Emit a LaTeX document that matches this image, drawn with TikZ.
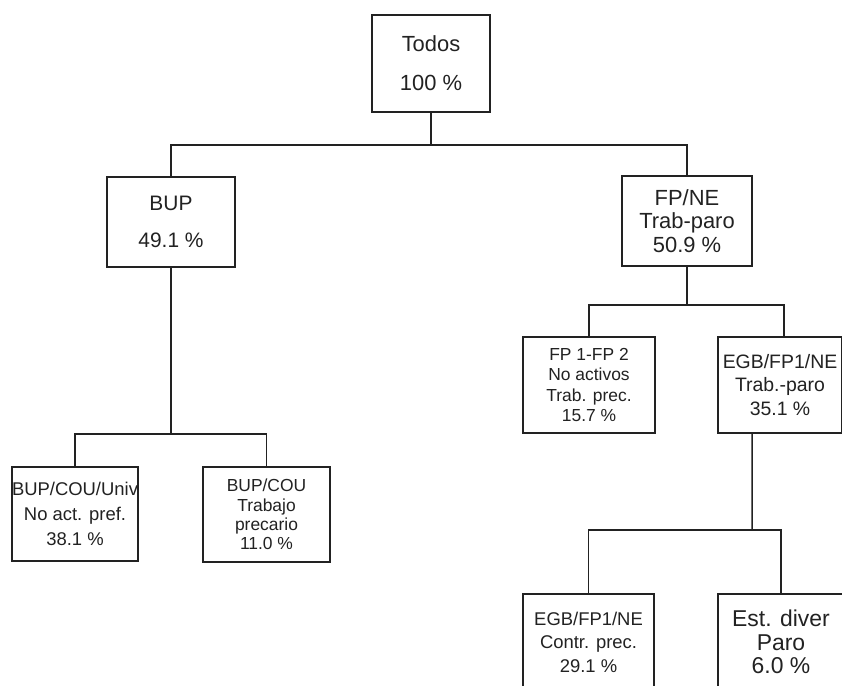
\documentclass[tikz,border=0pt]{standalone}
\usepackage{fontspec}
\setmainfont{Liberation Sans}
\definecolor{ink}{HTML}{222222}
\begin{document}
\begin{tikzpicture}[x=1bp,y=-1bp,
  box/.style={rectangle, draw=ink, line width=1.5bp, text=ink, align=center, inner sep=0pt, fill=white},
  link/.style={draw=ink, line width=1.5bp},
]
\useasboundingbox (0,0) rectangle (842,686);
\fill[white] (0,0) rectangle (842,686);
\clip (0,0) rectangle (842,686);

% nodes
\node[box, minimum width=118bp, minimum height=97bp, font=\fontsize{22}{39}\selectfont] (todos) at (431,63.5) {Todos\\100 \%};
\node[box, minimum width=128bp, minimum height=90bp, font=\fontsize{21}{37}\selectfont] (bup) at (171,222) {BUP\\49.1 \%};
\node[box, minimum width=130bp, minimum height=90bp, font=\fontsize{22}{23.5}\selectfont] (fpne) at (687,221) {FP/NE\\Trab-paro\\50.9 \%};
\node[box, minimum width=132bp, minimum height=96bp, font=\fontsize{17.5}{20.3}\selectfont] (fp12) at (589,385) {FP 1-FP 2\\No activos\\Trab. prec.\\15.7 \%};
\node[box, minimum width=124bp, minimum height=96bp, font=\fontsize{19.5}{24}\selectfont] (egb1) at (780,385) {EGB/FP1/NE\\Trab.-paro\\35.1 \%};
\node[box, minimum width=126bp, minimum height=94bp, font=\fontsize{18.5}{25}\selectfont] (bcu) at (75,514) {BUP/COU/Univ\\No act. pref.\\38.1 \%};
\node[box, minimum width=127bp, minimum height=95bp, font=\fontsize{17.5}{19.5}\selectfont] (bct) at (266.5,514.5) {BUP/COU\\Trabajo\\precario\\11.0 \%};
\node[box, minimum width=131bp, minimum height=96bp, font=\fontsize{18.5}{23.5}\selectfont] (egb2) at (588.5,642) {EGB/FP1/NE\\Contr. prec.\\29.1 \%};
\node[box, minimum width=126bp, minimum height=96bp, font=\fontsize{23}{23.5}\selectfont] (est) at (781,642) {Est. diver\\Paro\\6.0 \%};

% junctions
\coordinate (j1) at (431,145);
\coordinate (j2) at (171,434);
\coordinate (j3) at (687,305);
\coordinate (j4) at (752,530);

% connectors
\draw[link] (todos.south) -- (j1);
\draw[link] (bup.north) |- (j1) -| (fpne.north);
\draw[link] (bup.south) -- (j2);
\draw[link] (bcu.north) |- (j2) -| (bct.north);
\draw[link] (fpne.south) -- (j3);
\draw[link] (fp12.north) |- (j3) -| ([xshift=4bp]egb1.north);
\draw[link] ([xshift=-28bp]egb1.south) -- (j4);
\draw[link] (egb2.north) |- (j4) -| (est.north);
\end{tikzpicture}
\end{document}
